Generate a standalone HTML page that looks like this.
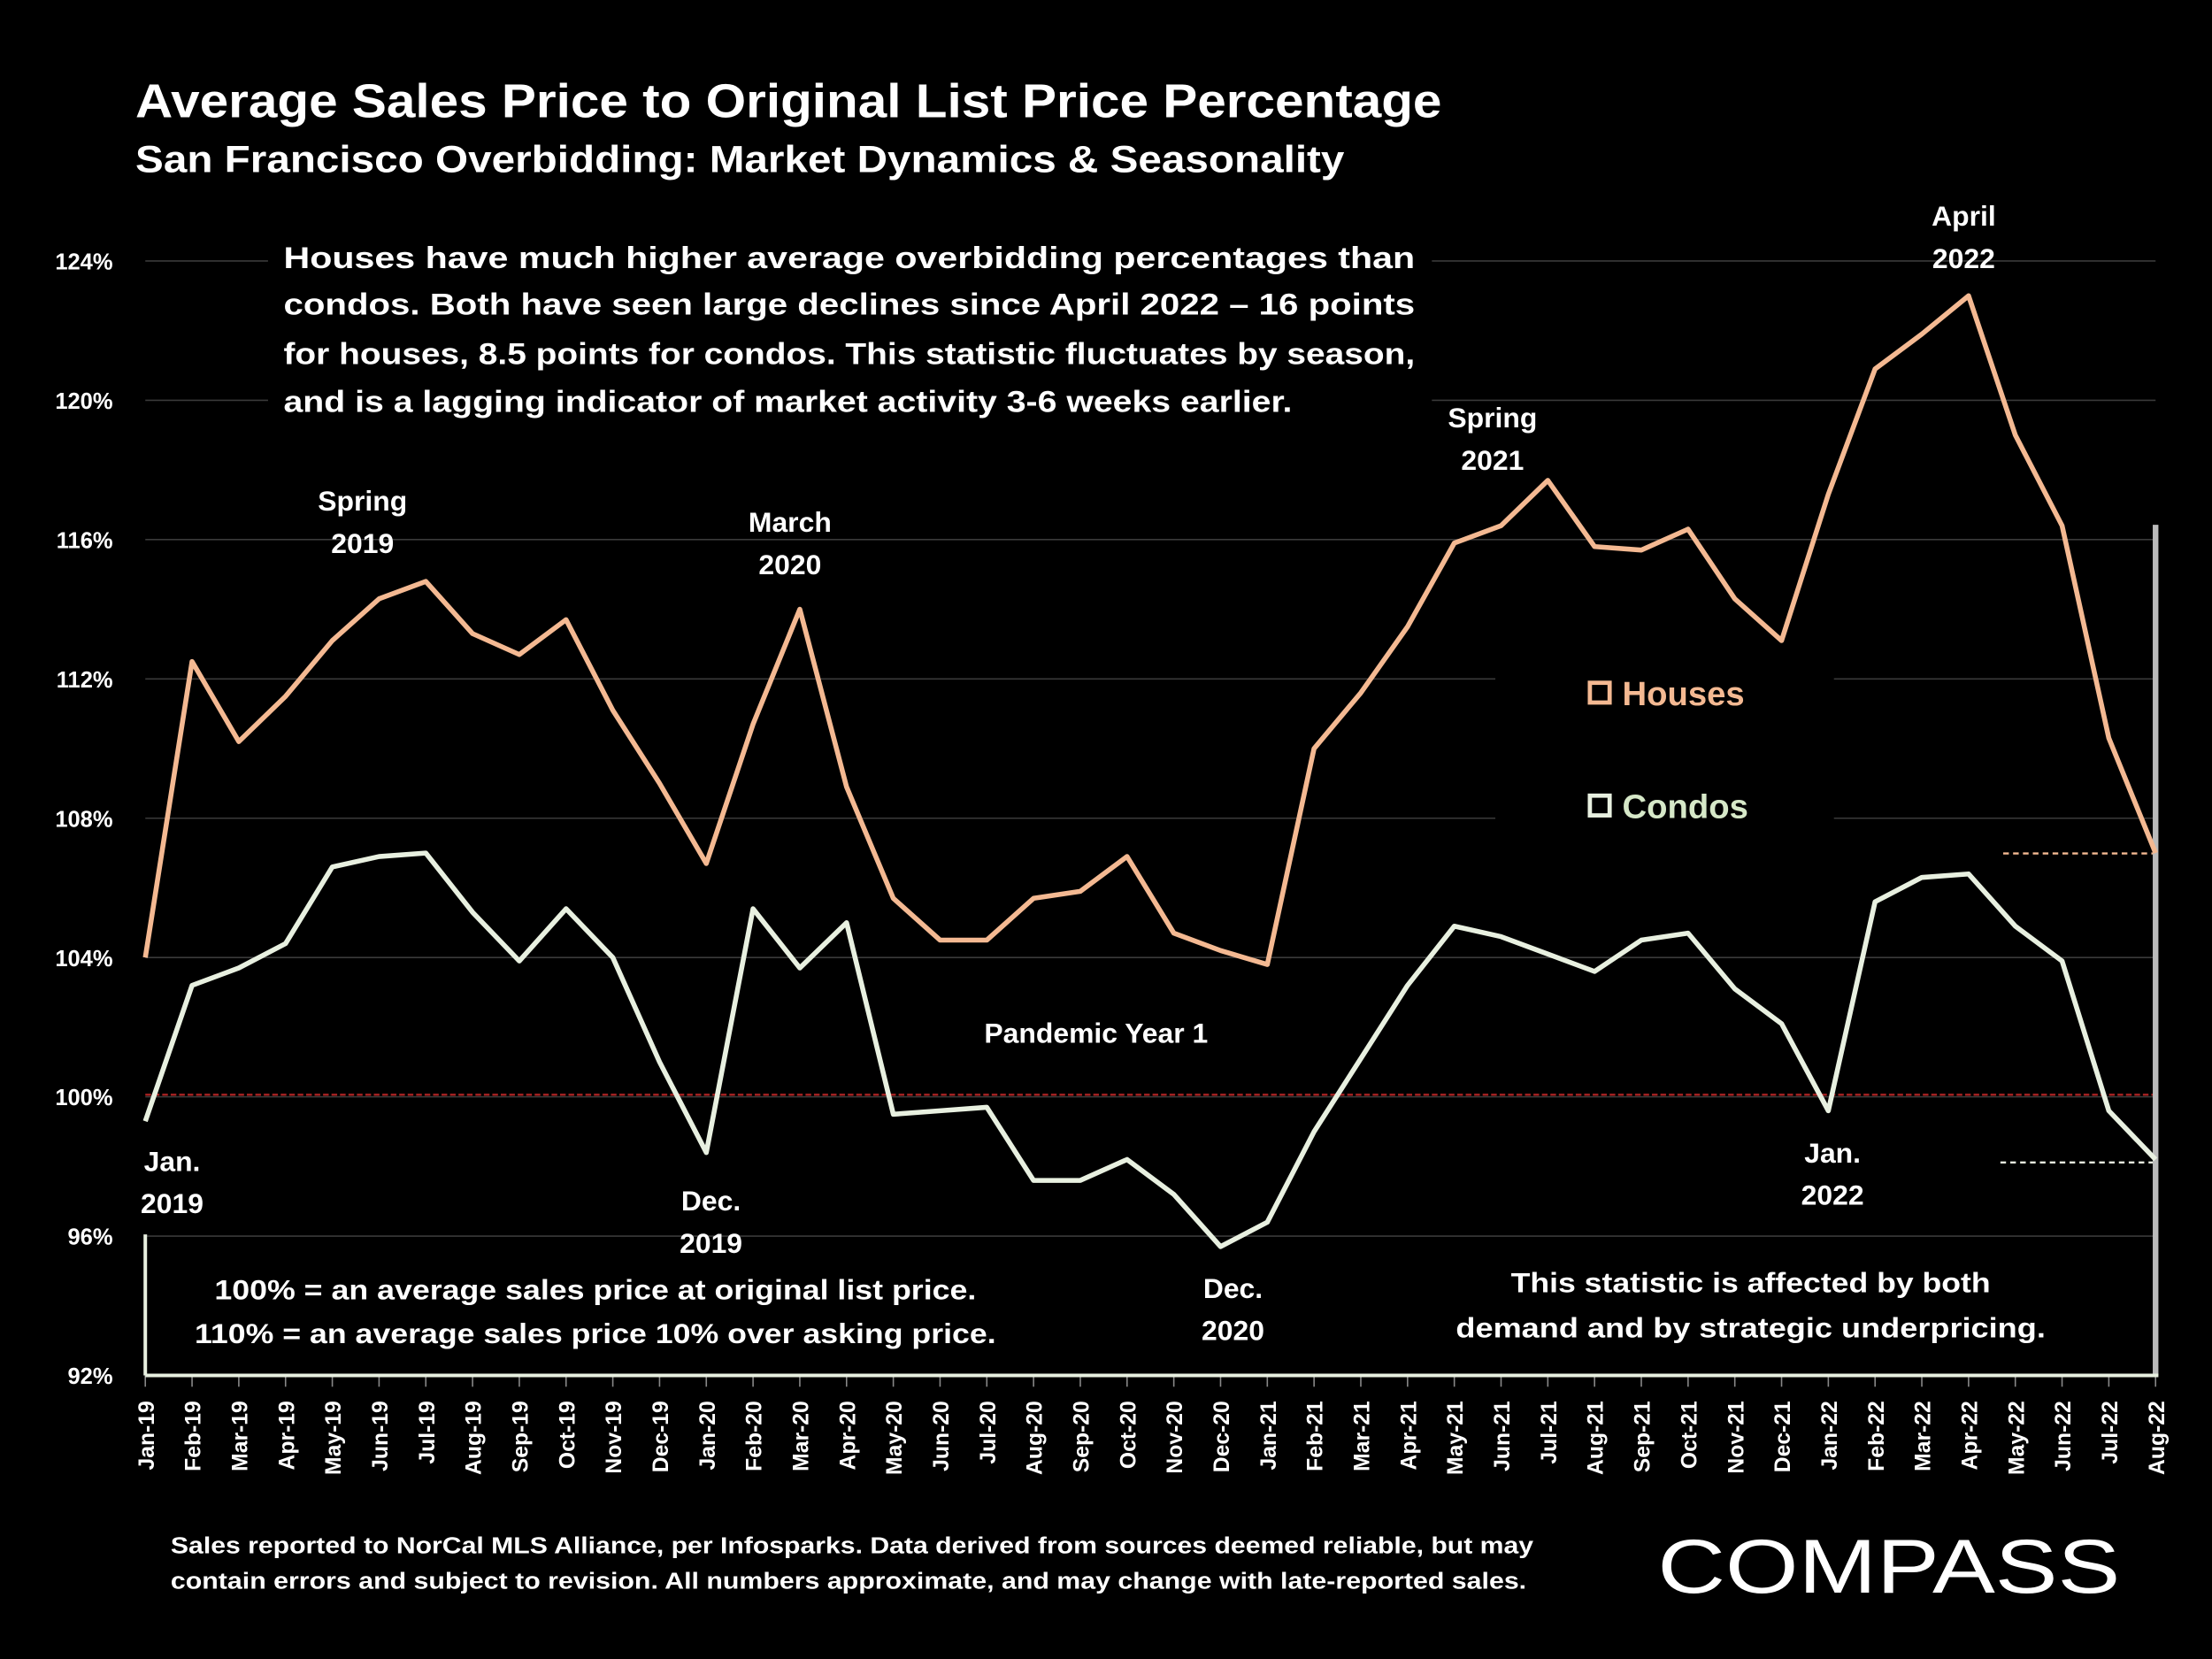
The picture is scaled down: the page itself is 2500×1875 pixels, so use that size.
<!DOCTYPE html>
<html><head><meta charset="utf-8"><style>
html,body{margin:0;padding:0;background:#000;}
svg{display:block;}
text{font-family:"Liberation Sans",sans-serif;font-weight:bold;}
</style></head><body>
<svg id="chart" width="2500" height="1875" viewBox="0 0 1568 1176" preserveAspectRatio="none" xmlns="http://www.w3.org/2000/svg">
<rect width="1568" height="1176" fill="#000"/>
<g id="grid"></g>
<g id="yticks"></g>
<g id="xticks"></g>
<line x1="103" x2="1528" y1="776" y2="776" stroke="#a02020" stroke-width="1.5" stroke-dasharray="4,2"/>
<line x1="1420" x2="1528" y1="605" y2="605" stroke="#f4b992" stroke-width="1.5" stroke-dasharray="4,3"/>
<line x1="1418" x2="1528" y1="824" y2="824" stroke="#e8f0e0" stroke-width="1.5" stroke-dasharray="4,3"/>
<rect x="1526" y="372" width="4" height="603" fill="#bbb"/>
<g fill="#000">
<rect x="190" y="165" width="825" height="135"/>
<rect x="110" y="890" width="625" height="80"/>
<rect x="1020" y="890" width="480" height="70"/>
<rect x="1060" y="460" width="240" height="125"/>
<rect x="680" y="715" width="200" height="30"/>
</g>
<g id="series"></g>
<line x1="103" x2="1530" y1="975" y2="975" stroke="#e8f0e0" stroke-width="2.5"/>
<line x1="103" x2="103" y1="875" y2="975" stroke="#e8f0e0" stroke-width="2.5"/>
<text x="96" y="83" fill="#fff" font-size="34" textLength="926" lengthAdjust="spacingAndGlyphs">Average Sales Price to Original List Price Percentage</text>
<text x="96" y="122" fill="#fff" font-size="27" textLength="857" lengthAdjust="spacingAndGlyphs">San Francisco Overbidding: Market Dynamics &amp; Seasonality</text>
<g fill="#fff" font-size="21.5">
<text x="201" y="190" textLength="802" lengthAdjust="spacingAndGlyphs">Houses have much higher average overbidding percentages than</text>
<text x="201" y="223" textLength="802" lengthAdjust="spacingAndGlyphs">condos. Both have seen large declines since April 2022 – 16 points</text>
<text x="201" y="258" textLength="802" lengthAdjust="spacingAndGlyphs">for houses, 8.5 points for condos. This statistic fluctuates by season,</text>
<text x="201" y="292" textLength="715" lengthAdjust="spacingAndGlyphs">and is a lagging indicator of market activity 3-6 weeks earlier.</text>
</g>
<g fill="#fff" font-size="20" text-anchor="middle">
<text x="257" y="362">Spring</text><text x="257" y="392">2019</text>
<text x="560" y="377">March</text><text x="560" y="407">2020</text>
<text x="1058" y="303">Spring</text><text x="1058" y="333">2021</text>
<text x="1392" y="160">April</text><text x="1392" y="190">2022</text>
<text x="122" y="830">Jan.</text><text x="122" y="860">2019</text>
<text x="504" y="858">Dec.</text><text x="504" y="888">2019</text>
<text x="874" y="920">Dec.</text><text x="874" y="950">2020</text>
<text x="1299" y="824">Jan.</text><text x="1299" y="854">2022</text>
<text x="777" y="739">Pandemic Year 1</text>
<text x="422" y="921" textLength="540" lengthAdjust="spacingAndGlyphs">100% = an average sales price at original list price.</text>
<text x="422" y="952" textLength="568" lengthAdjust="spacingAndGlyphs">110% = an average sales price 10% over asking price.</text>
<text x="1241" y="916" textLength="340" lengthAdjust="spacingAndGlyphs">This statistic is affected by both</text>
<text x="1241" y="948" textLength="418" lengthAdjust="spacingAndGlyphs">demand and by strategic underpricing.</text>
</g>
<g>
<rect x="1127" y="484" width="14" height="14" fill="none" stroke="#f4b992" stroke-width="3"/>
<text x="1150" y="500" fill="#f4b992" font-size="24">Houses</text>
<rect x="1127" y="564" width="14" height="14" fill="none" stroke="#e8f0e0" stroke-width="3"/>
<text x="1150" y="580" fill="#d6e8c8" font-size="24">Condos</text>
</g>
<g fill="#fff" font-size="16.5">
<text x="121" y="1101" textLength="966" lengthAdjust="spacingAndGlyphs">Sales reported to NorCal MLS Alliance, per Infosparks. Data derived from sources deemed reliable, but may</text>
<text x="121" y="1126" textLength="961" lengthAdjust="spacingAndGlyphs">contain errors and subject to revision. All numbers approximate, and may change with late-reported sales.</text>
</g>
<text x="1175" y="1129" fill="#fff" font-size="54" textLength="328" lengthAdjust="spacingAndGlyphs" style="font-weight:normal">COMPASS</text>
</svg>
<script>
const months = ["Jan","Feb","Mar","Apr","May","Jun","Jul","Aug","Sep","Oct","Nov","Dec"];
const categories = [];
for (let y = 19; y <= 22; y++) for (let m = 0; m < 12; m++) { if (y === 22 && m > 7) break; categories.push(months[m] + "-" + y); }
const houses = [104,112.5,110.2,111.5,113.1,114.3,114.8,113.3,112.7,113.7,111.1,109,106.7,110.7,114,108.9,105.7,104.5,104.5,105.7,105.9,106.9,104.7,104.2,103.8,110,111.6,113.5,115.9,116.4,117.7,115.8,115.7,116.3,114.3,113.1,117.3,120.9,121.9,123,119,116.4,110.3,107];
const condos = [99.3,103.2,103.7,104.4,106.6,106.9,107,105.3,103.9,105.4,104,101,98.4,105.4,103.7,105,99.5,99.6,99.7,97.6,97.6,98.2,97.2,95.7,96.4,99,101.1,103.2,104.9,104.6,104.1,103.6,104.5,104.7,103.1,102.1,99.6,105.6,106.3,106.4,104.9,103.9,99.6,98.2];
const yTicks = [92,96,100,104,108,112,116,120,124];
const NS = "http://www.w3.org/2000/svg";
const x = i => 103 + i * (1528 - 103) / (categories.length - 1);
const y = v => 975 - (v - 92) * (975 - 185) / 32;
function mk(tag, attrs, parent) { const e = document.createElementNS(NS, tag); for (const k in attrs) e.setAttribute(k, attrs[k]); parent.appendChild(e); return e; }
const grid = document.getElementById("grid"), yt = document.getElementById("yticks"), xt = document.getElementById("xticks"), ser = document.getElementById("series");
yTicks.forEach(v => {
  if (v > 92) { const l = mk("line", {x1:103, x2:1528, y1:y(v), y2:y(v), stroke:"#3a3a3a", "stroke-width":1}, grid);
  
   }
  const t = mk("text", {x:80, y:y(v)+6, fill:"#fff", "font-size":16, "text-anchor":"end"}, yt);
  t.textContent = v + "%";
  
  
});
categories.forEach((c, i) => {
  const tk = mk("line", {x1:x(i), x2:x(i), y1:975, y2:983, stroke:"#888", "stroke-width":1}, xt);
  
  
  const t = mk("text", {x:0, y:0, fill:"#fff", "font-size":15.5, "text-anchor":"end", transform:`translate(${x(i)+6},993) rotate(-90)`}, xt);
  t.textContent = c;
  
  
});
function line(data, color, name) {
  const p = mk("polyline", {points: data.map((v,i)=>x(i)+","+y(v)).join(" "), fill:"none", stroke:color, "stroke-width":3.5, "stroke-linejoin":"round"}, ser);
  
  
}
line(houses, "#f4b992", "houses-line");
line(condos, "#e8f0e0", "condos-line");
</script>
</body></html>
